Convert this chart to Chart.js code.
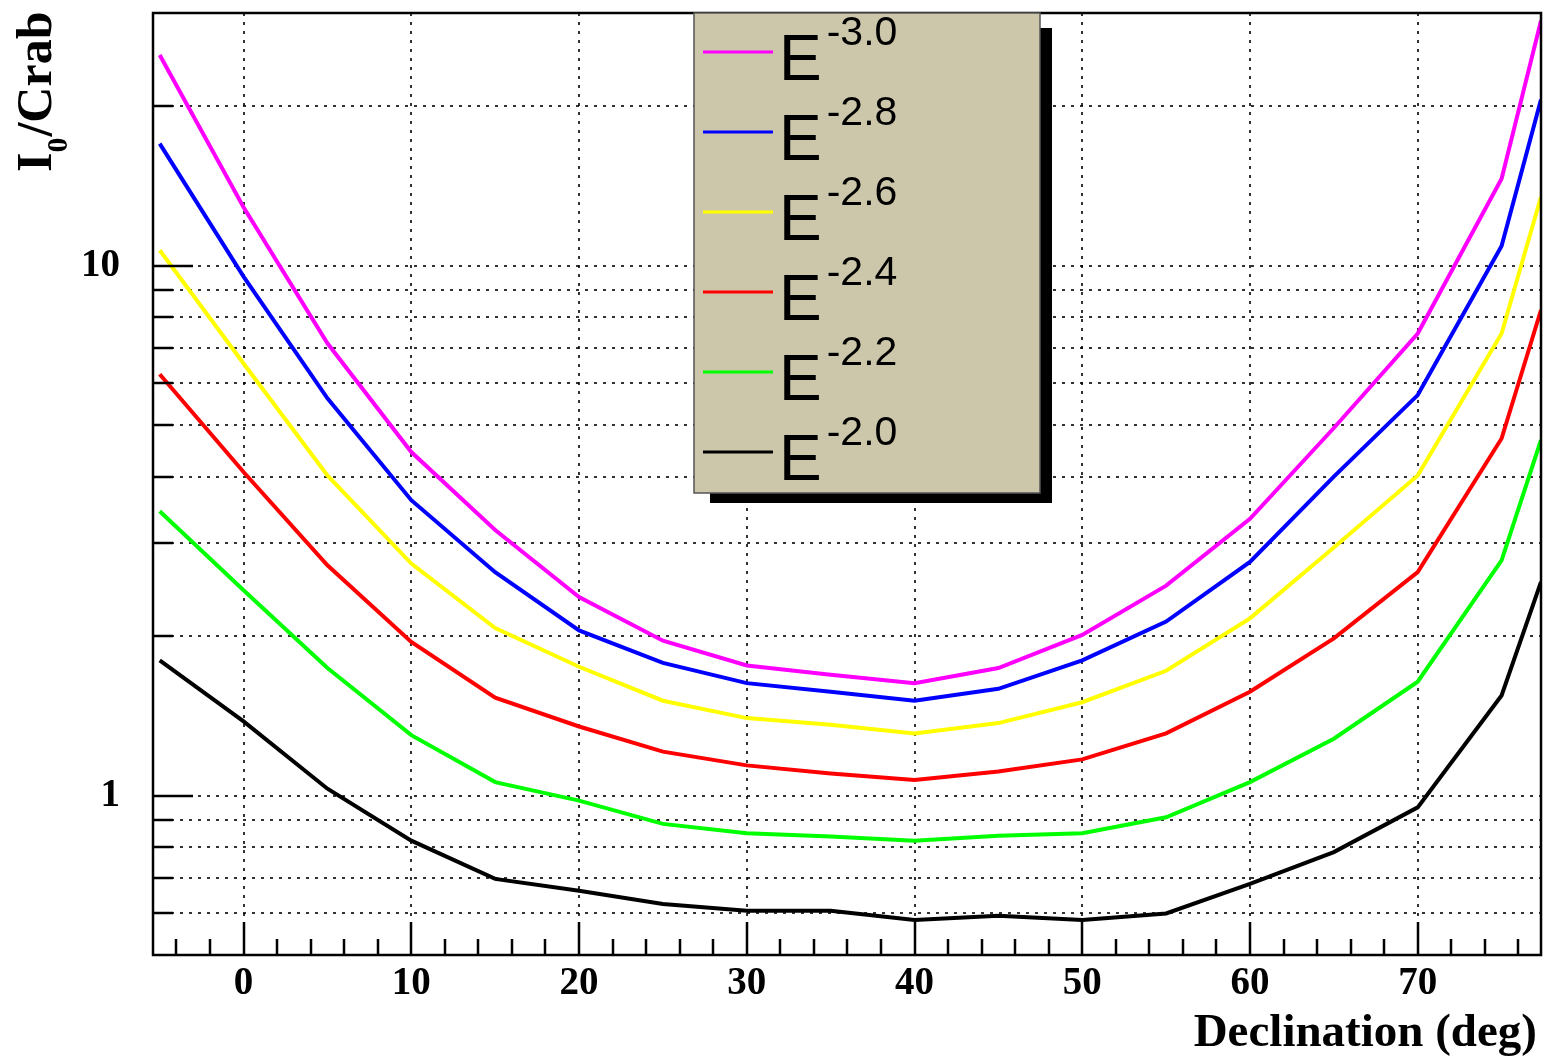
<!DOCTYPE html>
<html>
<head>
<meta charset="utf-8">
<title>I0/Crab vs declination</title>
<script src="https://cdn.jsdelivr.net/npm/chart.js@4.4.1/dist/chart.umd.min.js"></script>
<style>
  html, body { margin: 0; padding: 0; background: #fff; }
  #wrap { width: 1551px; height: 1058px; }
</style>
</head>
<body>
<div id="wrap"><canvas id="sens" width="1551" height="1058"></canvas></div>
<script>
/* global Chart */

// declination of each sample (deg); last one sits on the right edge of the frame
const DECLINATION = [-5, 0, 5, 10, 15, 20, 25, 30, 35, 40, 45, 50, 55, 60, 65, 70, 75, 77.35];

// I0 / Crab for each spectral index
const I0_E30 = [25.0, 12.9, 7.14, 4.45, 3.17, 2.37, 1.96, 1.76, 1.69, 1.63, 1.74, 2.01, 2.49, 3.33, 4.94, 7.45, 14.6, 29.0];
const I0_E28 = [17.0, 9.54, 5.62, 3.61, 2.64, 2.05, 1.78, 1.63, 1.57, 1.51, 1.59, 1.80, 2.13, 2.76, 4.00, 5.70, 10.9, 20.6];
const I0_E26 = [10.7, 6.54, 4.02, 2.74, 2.07, 1.75, 1.51, 1.40, 1.36, 1.31, 1.37, 1.50, 1.72, 2.16, 2.94, 4.02, 7.45, 13.5];
const I0_E24 = [6.24, 4.08, 2.72, 1.95, 1.53, 1.35, 1.21, 1.14, 1.10, 1.07, 1.11, 1.17, 1.31, 1.57, 1.98, 2.64, 4.72, 8.25];
const I0_E22 = [3.44, 2.44, 1.74, 1.30, 1.06, 0.978, 0.884, 0.849, 0.837, 0.822, 0.840, 0.849, 0.910, 1.06, 1.28, 1.64, 2.78, 4.69];
const I0_E20 = [1.80, 1.38, 1.03, 0.822, 0.696, 0.661, 0.624, 0.606, 0.606, 0.582, 0.593, 0.582, 0.599, 0.681, 0.782, 0.950, 1.545, 2.53];

const INDEX_LABELS = ["-3.0", "-2.8", "-2.6", "-2.4", "-2.2", "-2.0"];
const SERIES = [I0_E30, I0_E28, I0_E26, I0_E24, I0_E22, I0_E20];
const COLORS = ["#ff00ff", "#0000ff", "#ffff00", "#ff0000", "#00ff00", "#000000"];

const X_TICKS = [0, 10, 20, 30, 40, 50, 60, 70];
const Y_TICKS = [1, 10];
const Y_MINOR = [0.6, 0.7, 0.8, 0.9, 2, 3, 4, 5, 6, 7, 8, 9, 20];

const X_MIN = -5.4, X_MAX = 77.35;
const Y_MIN = 0.5, Y_MAX = 30;

const SERIF = '"Liberation Serif", "DejaVu Serif", "Times New Roman", serif';
const SANS = '"Liberation Sans", Arial, Helvetica, sans-serif';

// dotted grid under the curves
const rootGrid = {
  id: "rootGrid",
  beforeDatasetsDraw(chart){
    const { ctx, chartArea: a, scales: { x, y } } = chart;
    ctx.save();
    ctx.strokeStyle = "rgba(0,0,0,0.8)";
    ctx.lineWidth = 2;
    ctx.setLineDash([3, 6]);
    for (const v of X_TICKS){
      const px = Math.round(x.getPixelForValue(v));
      ctx.beginPath();
      ctx.moveTo(px, a.top);
      ctx.lineTo(px, a.bottom);
      ctx.stroke();
    }
    for (const v of [...Y_TICKS, ...Y_MINOR]){
      const py = Math.round(y.getPixelForValue(v));
      ctx.beginPath();
      ctx.moveTo(a.left, py);
      ctx.lineTo(a.right, py);
      ctx.stroke();
    }
    ctx.restore();
  }
};

// frame and inward tick marks, ROOT style
const rootFrame = {
  id: "rootFrame",
  afterDatasetsDraw(chart){
    const { ctx, chartArea: a, scales: { x, y } } = chart;
    ctx.save();
    ctx.strokeStyle = "#000";
    ctx.lineWidth = 2.5;
    ctx.setLineDash([]);
    ctx.strokeRect(a.left, a.top, a.right - a.left, a.bottom - a.top);

    ctx.beginPath();
    for (let v = -4; v <= 76; v += 2){
      const px = Math.round(x.getPixelForValue(v));
      const len = v % 10 === 0 ? 33 : 16;
      ctx.moveTo(px, a.bottom);
      ctx.lineTo(px, a.bottom - len);
    }
    for (const v of Y_TICKS){
      const py = Math.round(y.getPixelForValue(v));
      ctx.moveTo(a.left, py);
      ctx.lineTo(a.left + 40, py);
    }
    for (const v of Y_MINOR){
      const py = Math.round(y.getPixelForValue(v));
      ctx.moveTo(a.left, py);
      ctx.lineTo(a.left + 20, py);
    }
    ctx.stroke();
    ctx.restore();
  },

  afterDraw(chart){
    const { ctx } = chart;
    ctx.save();
    ctx.fillStyle = "#000";
    ctx.textAlign = "left";
    ctx.textBaseline = "alphabetic";

    // y title: I_0/Crab, rotated, flush with the top
    ctx.translate(51, 172);
    ctx.rotate(-Math.PI / 2);
    ctx.font = `bold 50px ${SERIF}`;
    ctx.fillText("I", 0, 0);
    let w = ctx.measureText("I").width;
    ctx.font = `bold 30px ${SERIF}`;
    ctx.fillText("0", w, 16);
    w += ctx.measureText("0").width;
    ctx.font = `bold 50px ${SERIF}`;
    ctx.fillText("/Crab", w + 1, 0);
    ctx.restore();

    // x title, flush right
    ctx.save();
    ctx.fillStyle = "#000";
    ctx.font = `bold 47px ${SERIF}`;
    ctx.textAlign = "right";
    ctx.textBaseline = "alphabetic";
    ctx.fillText("Declination (deg)", 1537, 1046);
    ctx.restore();

    drawLegend(chart);
  }
};

function drawLegend(chart){
  const { ctx } = chart;
  const box = { left: 694, top: 13, right: 1040, bottom: 493 };
  ctx.save();
  ctx.fillStyle = "#000";
  ctx.fillRect(box.left + 16, box.top + 15, box.right - box.left - 4, box.bottom - box.top - 5);
  ctx.fillStyle = "#ccc6aa";
  ctx.fillRect(box.left, box.top, box.right - box.left, box.bottom - box.top);
  ctx.strokeStyle = "#555";
  ctx.lineWidth = 1.5;
  ctx.strokeRect(box.left, box.top, box.right - box.left, box.bottom - box.top);

  chart.data.datasets.forEach((ds, i) => {
    const row = box.top + 80 * i;
    ctx.strokeStyle = ds.borderColor;
    ctx.lineWidth = 3;
    ctx.beginPath();
    ctx.moveTo(703, row + 39);
    ctx.lineTo(773, row + 39);
    ctx.stroke();

    ctx.fillStyle = "#000";
    ctx.textAlign = "left";
    ctx.textBaseline = "alphabetic";
    ctx.font = `64px ${SANS}`;
    ctx.fillText("E", 779, row + 67);
    const ew = ctx.measureText("E").width;
    ctx.font = `41px ${SANS}`;
    ctx.fillText(INDEX_LABELS[i], 779 + ew + 5, row + 32);
  });
  ctx.restore();
}

function buildChart(){
  const ctx = document.getElementById("sens").getContext("2d");
  const datasets = SERIES.map((vals, i) => ({
    label: `E^${INDEX_LABELS[i]}`,
    data: DECLINATION.map((d, k) => ({ x: d, y: vals[k] })),
    borderColor: COLORS[i],
    backgroundColor: COLORS[i],
    borderWidth: 4,
    pointRadius: 0,
    tension: 0,
    fill: false
  }));

  return new Chart(ctx, {
    type: "line",
    data: { datasets },
    options: {
      responsive: false,
      animation: false,
      devicePixelRatio: 1,
      layout: { padding: { left: 0, right: 10, top: 13, bottom: 0 } },
      plugins: {
        legend: { display: false },
        tooltip: { enabled: false }
      },
      scales: {
        x: {
          type: "linear",
          min: X_MIN,
          max: X_MAX,
          grid: { display: false, drawTicks: false },
          border: { display: false },
          afterBuildTicks: (s) => { s.ticks = X_TICKS.map(v => ({ value: v })); },
          afterFit: (s) => { s.height = 103; s.paddingLeft = 0; s.paddingRight = 0; },
          ticks: {
            autoSkip: false,
            maxRotation: 0,
            padding: 6,
            color: "#000",
            font: { family: SERIF, size: 39, weight: "bold" },
            callback: (v) => String(v)
          }
        },
        y: {
          type: "logarithmic",
          min: Y_MIN,
          max: Y_MAX,
          grid: { display: false, drawTicks: false },
          border: { display: false },
          afterBuildTicks: (s) => { s.ticks = Y_TICKS.map(v => ({ value: v })); },
          afterFit: (s) => { s.width = 153; s.paddingTop = 0; s.paddingBottom = 0; },
          ticks: {
            autoSkip: false,
            padding: 33,
            color: "#000",
            font: { family: SERIF, size: 39, weight: "bold" },
            callback: (v) => String(v)
          }
        }
      }
    },
    plugins: [rootGrid, rootFrame]
  });
}

buildChart();
</script>
</body>
</html>
